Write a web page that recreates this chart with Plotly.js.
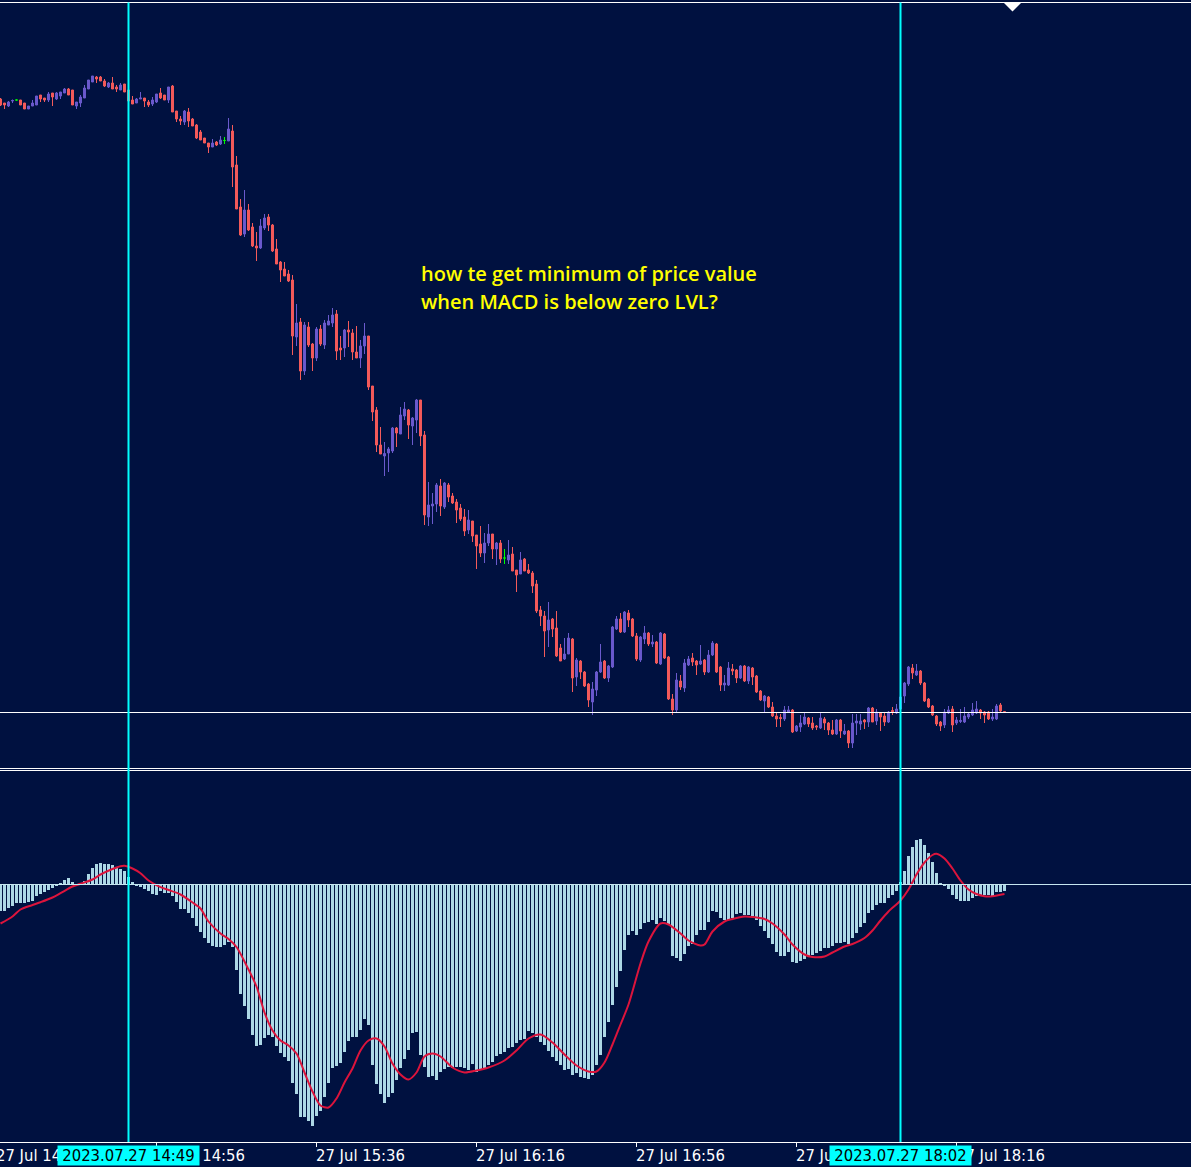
<!DOCTYPE html>
<html><head><meta charset="utf-8">
<script src="https://cdn.plot.ly/plotly-3.0.1.min.js"></script>
<style>html,body{margin:0;padding:0;background:#001140;}#chart{width:1191px;height:1167px;}</style>
</head><body><div id="chart"></div>
<script>
// ---- data (1-minute bars starting 2023-07-27 14:17) ----
const startUTC = Date.UTC(2023, 6, 27, 14, 17);
const open = [901,897,894,899,900,900,897,891,894,895,905,902,900,907,901,904,907,911,910,894,897,902,911,918,923,923,919,913,917,913,910,916,910,900,897,901,902,898,896,898,907,905,900,914,889,881,878,888,881,875,868,862,857,853,858,856,859.5,859,869,835,793,766,790,773,754,752,772,783,775,751,738,731,726,720,663,678,629,673,656,642,671,655,675,677,686,652,652,670,667,648,642,654,664,614,590,555,544,547,549,572,566,584,590,574,580,600,565,483,494,496,514,493,515,504,498,492,483,470,479,465,456,447,457,466,451,457,442,440,446,430,426,441,430,427,416,390,384,370,381,372,352,341,346,361,323,339,328,316,298,310,328,339,322,333,371,381,368,387,381,364,340,361,367,356,358,336,366,343,301,290,319,312,335,342,339,336,340,328,345,356,333,315,315,331,330,322,334,319,332,324,309,299,303,293,284,282.5,281,288,290,269,273,276,282,277,274,272,281,277,270,266,280,266,269,257,277,276,280,278,292,279,287,284,278,289.5,287,291,304,316,332,325,329,317,301,294,284,278,275,287,291,277,278.5,278,283,285,287,290,288,288,281,281,295,288.3];
const high = [902,897,899,900.5,900.5,900,897,894,900,904,905,902,908,907,908,908,912,912,910,898,905,915,920,924,924,924,921,918,923,915,917,916,910,904,902,908,902,900,903,906,912,905,913,915,889,884,890,892,882,876,870,862,857,861,859,864,863,882,875,844,801,810,796,777,768,781,786,786,776,761,739,738,730,725,696,682,678,678,657,673,675,680,685,692,690,664,671,679,671,674,660,677,664,614,593,573,558,553,573,573,593,598,591,583,601,600,569,518,507,517,521,518,517,507,501,496,491,490,479,465,474,467,476,466,458,460,451,460,453,430,448,442,436,429,420,394,389,398,382,389,356,362,367,362,342,340,329,317,318,329,356,340,335,374,384,387,389,390,382,367,364,374,368,365,359,368,367,344,306,327,325,341,344,347,340,355,341,350,359,357,334,325,338,336,331,335,335,334,333,325,310,305,304,298,288,286,294,294,291,275,285,288,283,283,275,287,283,278,280,281,281,276,270,286,286,286,281,293,293,291,288,288,289,293,296,305,318,334,336,336,330,318,302,295,285,279,291,294,294,283,291,293,287,297,299,291,289,289,291,296,297,288.3];
const low = [894,891,893,897,899.5,895,891,891,894,895,898,898,898,894,900,901,907,905,895,891,893,902,911,918,917,919,913,912,911,908,910,908,899,896,897,901,893,893,894,897,901,900,897,888,878,875,875,873,874,861,860,857,847,853,854,855,856,859,813,791,764,763,769,753,739,751,770,769,748,736,718,724,718,645,654,620,625,653,629,639,654,651,675,673,640,640,643,653,640,642,632,646,610,579,548,546,524,528,547,553,566,580,561,555,567,554,475,474,476,488,484,491,498,496,477,479,464,466,458,431,443,437,454,441,435,437,436,436,429,408,426,429,426,407,387,374,343,353,363,343,339,340,346,308,314,321,313,293,285,304,327,321,318,332,370,367,367,373,363,339,338,356,354,353,336,335,341,300,285,287,310,308,334,334,325,335,325,327,344,327,309,309,314,325,317,321,318,316,315,307,299,287,292,283,273,273,279,287,267,268,268,275,273,270,270,271,270,265,265,265,262,265,252,252,265,270,271,273,278,275,269,274,277,285,286,290,297,314,321,324,315,298,292,284,274,269,272,286,268,275,277,277,281,284,286,281,277,280,279,280,288,288];
const close = [895,895,898,899.5,900,895,891,894,897,904,901,900,906,903,907,908,911,905,895,898,903,912,920,924,921,919,914,917,911,911,915,908,899,896,901,902,899,895,900,906,902,900,913,888,881,879,889,879,874,862,860,857,853,857,855,860,859.5,871,833,791,765,790,770,754,752,774,782,775,749,736,730,724,719,664,677,629,675,655,642,671,656,677,679,685,649,650,670,668,648,642,654,664,613,588,555,546,546.5,551,572,567,585,591,575,582,600,564,485,495,496,515,494,517,503,497,490,481,469,480,464,454,447,457,466,451,457,441,442,445,429,425,440,429,427,414,389,384,369,380,371,344,339,346,362,322,340,328,314,300,311,328,338,322,334,373,381,368,388,380,364,341,363,367,356,358,337,367,342,301,290,320,313,337,341,338,335,339,328,345,357,328,315,317,332,329,322,334,319,333,323,308,300,304,293,284,281,281.5,290,290,268,274,277,283,276,272,273,282,277,270,266,280,269,269,257,277,279,279,278,292,278,288,283,278,288,288.5,291,303,317,333,327,329,317,299,293,285,276,274,288,290,275,280,279.5,284,286,290,291,287,285,281,283,294,289,288];
const macd = [-0.267,-0.26,-0.233,-0.21,-0.187,-0.18,-0.18,-0.17,-0.16,-0.11,
-0.093,-0.077,-0.05,-0.037,-0.017,0.017,0.047,0.067,0.023,0.0,
0.005,0.04,0.107,0.163,0.207,0.22,0.21,0.21,0.197,0.173,
0.157,0.14,0.08,0.023,-0.017,-0.027,-0.043,-0.067,-0.093,-0.10,
-0.067,-0.083,-0.083,-0.11,-0.17,-0.24,-0.243,-0.28,-0.335,-0.415,
-0.477,-0.537,-0.587,-0.61,-0.627,-0.62,-0.60,-0.577,-0.627,-0.85,
-1.093,-1.21,-1.343,-1.50,-1.61,-1.60,-1.537,-1.50,-1.527,-1.617,
-1.687,-1.727,-1.767,-1.987,-2.093,-2.327,-2.327,-2.36,-2.41,-2.31,
-2.26,-2.127,-1.983,-1.837,-1.817,-1.787,-1.677,-1.567,-1.527,-1.52,
-1.45,-1.343,-1.407,-1.80,-1.99,-2.09,-2.18,-2.12,-2.08,-1.95,
-1.83,-1.74,-1.65,-1.48,-1.47,-1.70,-1.82,-1.92,-1.91,-1.95,
-1.87,-1.84,-1.82,-1.83,-1.82,-1.82,-1.83,-1.85,-1.79,-1.87,
-1.84,-1.83,-1.80,-1.77,-1.71,-1.69,-1.67,-1.63,-1.62,-1.58,
-1.55,-1.54,-1.46,-1.48,-1.52,-1.57,-1.60,-1.66,-1.72,-1.76,
-1.80,-1.85,-1.84,-1.90,-1.88,-1.92,-1.93,-1.94,-1.90,-1.80,
-1.70,-1.52,-1.37,-1.20,-1.02,-0.86,-0.65,-0.50,-0.46,-0.50,
-0.44,-0.38,-0.37,-0.35,-0.39,-0.33,-0.36,-0.40,-0.71,-0.73,
-0.76,-0.69,-0.61,-0.59,-0.50,-0.45,-0.45,-0.37,-0.26,-0.27,
-0.33,-0.35,-0.35,-0.33,-0.29,-0.28,-0.30,-0.30,-0.31,-0.35,
-0.41,-0.46,-0.53,-0.59,-0.67,-0.71,-0.71,-0.67,-0.77,-0.78,
-0.76,-0.74,-0.72,-0.70,-0.68,-0.66,-0.63,-0.63,-0.61,-0.58,
-0.58,-0.57,-0.59,-0.53,-0.48,-0.42,-0.38,-0.28,-0.25,-0.20,
-0.18,-0.18,-0.13,-0.10,-0.06,0.03,0.14,0.29,0.38,0.45,
0.457,0.40,0.317,0.223,0.113,0.02,-0.01,-0.043,-0.10,-0.143,
-0.16,-0.16,-0.16,-0.133,-0.11,-0.10,-0.10,-0.10,-0.11,-0.077,
-0.07,-0.06];
const signalIdx = [0,3,5,8,10,13,15,18,20,23,25,28,30,31,33,35,37,40,42,45,48,50,52,55,57,59,62,64,66,68,70,72,74,76,78,80,82,84,86,88,90,92,94,96,98,100,102,104,106,108,110,113,116,119,122,126,129,132,135,138,141,144,147,149,151,153,155,157,160,162,165,167,170,172,175,176,178,181,183,186,188,191,193,196,198,201,203,206,208,211,213,216,218,220,222,225,227,229,231,233,234,236,238,240,242,244,246,248,251];
const signalVal = [-0.39,-0.32,-0.25,-0.205,-0.177,-0.13,-0.087,-0.02,0.007,0.05,0.10,0.155,0.183,0.187,0.16,0.113,0.04,-0.027,-0.055,-0.10,-0.18,-0.24,-0.37,-0.49,-0.545,-0.625,-0.85,-1.02,-1.28,-1.46,-1.56,-1.61,-1.69,-1.88,-2.07,-2.21,-2.23,-2.14,-1.98,-1.84,-1.66,-1.56,-1.54,-1.62,-1.79,-1.90,-1.95,-1.88,-1.72,-1.69,-1.72,-1.83,-1.88,-1.86,-1.83,-1.76,-1.66,-1.54,-1.50,-1.58,-1.70,-1.81,-1.87,-1.87,-1.78,-1.60,-1.40,-1.20,-0.79,-0.57,-0.39,-0.40,-0.49,-0.56,-0.61,-0.60,-0.47,-0.37,-0.345,-0.32,-0.325,-0.345,-0.39,-0.50,-0.60,-0.70,-0.725,-0.72,-0.68,-0.62,-0.595,-0.535,-0.46,-0.36,-0.27,-0.16,-0.05,0.10,0.22,0.295,0.307,0.26,0.16,0.04,-0.05,-0.095,-0.117,-0.117,-0.095];
const tickTimes = ['2023-07-27 14:16','2023-07-27 14:56','2023-07-27 15:36','2023-07-27 16:16','2023-07-27 16:56','2023-07-27 17:36','2023-07-27 18:16'];
const tickLabels = ['27 Jul 14:16','27 Jul 14:56','27 Jul 15:36','27 Jul 16:16','27 Jul 16:56','27 Jul 17:36','27 Jul 18:16'];
const markerTimes = ['2023-07-27 14:49','2023-07-27 18:02'];
const markerLabels = ['2023.07.27 14:49','2023.07.27 18:02'];
const levelPrice = 287.5;
const noteLines = ['how te get minimum of price value','when MACD is below zero LVL?'];

// ---- helpers ----
function tstr(ms){ return new Date(ms).toISOString().slice(0,23).replace('T',' '); }
const times = open.map((_, i) => tstr(startUTC + i*60000));
const xRange = [tstr(startUTC - 7500), tstr(startUTC + 297.625*60000)];

const H = 1167;
const py = p => (H - p) / H; // pixel row -> paper fraction

const BULL = '#6A5ACD', BEAR = '#F45B5B', DOJI = '#00FF00';
const reg = {x:[],o:[],h:[],l:[],c:[]}, doj = {x:[],o:[],h:[],l:[],c:[]};
open.forEach((o,i)=>{ const t = (o===close[i]) ? doj : reg; t.x.push(times[i]); t.o.push(o); t.h.push(high[i]); t.l.push(low[i]); t.c.push(close[i]); });

const traces = [
  {type:'candlestick', x:reg.x, open:reg.o, high:reg.h, low:reg.l, close:reg.c, xaxis:'x', yaxis:'y',
   increasing:{line:{color:BULL,width:1}, fillcolor:BULL}, decreasing:{line:{color:BEAR,width:1}, fillcolor:BEAR},
   whiskerwidth:0, hoverinfo:'skip', showlegend:false},
  {type:'candlestick', x:doj.x, open:doj.o, high:doj.h, low:doj.l, close:doj.c, xaxis:'x', yaxis:'y',
   increasing:{line:{color:DOJI,width:1}, fillcolor:DOJI}, decreasing:{line:{color:DOJI,width:1}, fillcolor:DOJI},
   whiskerwidth:0, hoverinfo:'skip', showlegend:false},
  {type:'bar', x:times, y:macd, xaxis:'x', yaxis:'y2', width:38000, marker:{color:'#ADD8E6', line:{width:0}}, hoverinfo:'skip', showlegend:false},
  {type:'scatter', mode:'lines', x:signalIdx.map(i=>times[i]), y:signalVal, xaxis:'x', yaxis:'y2',
   line:{color:'#DC143C', width:2, shape:'spline', smoothing:0.8}, hoverinfo:'skip', showlegend:false}
];

const shapes = [
  {type:'line', xref:'paper', yref:'paper', x0:0, x1:1, y0:py(2.5), y1:py(2.5), line:{color:'#FFFFFF', width:1}},
  {type:'line', xref:'paper', yref:'paper', x0:0, x1:1, y0:py(768.5), y1:py(768.5), line:{color:'#FFFFFF', width:1}},
  {type:'line', xref:'paper', yref:'paper', x0:0, x1:1, y0:py(770.5), y1:py(770.5), line:{color:'#FFFFFF', width:1}},
  {type:'line', xref:'paper', yref:'y', x0:0, x1:1, y0:levelPrice, y1:levelPrice, line:{color:'#FFFFFF', width:1}},
  {type:'line', xref:'paper', yref:'y2', x0:0, x1:1, y0:0, y1:0, line:{color:'#C6E6F0', width:1}},
  {type:'path', xref:'x', yref:'paper', xsizemode:'pixel', ysizemode:'pixel', xanchor:tstr(startUTC + 253*60000), yanchor:py(2.5),
   path:'M -9,0 L 9,0 L 0,-9 Z', fillcolor:'#FFFFFF', line:{width:0}}
];
markerTimes.forEach(t => shapes.push({type:'line', xref:'x', yref:'paper', x0:t, x1:t, y0:py(1142), y1:py(2.5), line:{color:'#00FFFF', width:2}}));

const labelFont = {family:'DejaVu Sans Condensed, DejaVu Sans, sans-serif', size:16.5, color:'#FFFFFF'};
const annotations = [];
noteLines.forEach((s,k)=>annotations.push({xref:'paper', yref:'paper', x:422/1191, xshift:-3, y:py(273 + 29*k), xanchor:'left', yanchor:'middle',
  text:s, showarrow:false, font:{family:'Open Sans, sans-serif', size:20, weight:600, color:'#FFFF00'}}));
tickTimes.forEach((t,k)=>{
  const a = {xref:'x', yref:'paper', x:t, xshift:-3, y:py(1155), xanchor:'left', yanchor:'middle', text:tickLabels[k], showarrow:false, font:labelFont};
  if (k === 0) { a.x = times[0]; a.xshift = -7; }
  annotations.push(a);
});
markerTimes.forEach((t,k)=>annotations.push({xref:'x', yref:'paper', x:t, y:py(1155), xanchor:'center', yanchor:'middle',
  text:markerLabels[k], showarrow:false, bgcolor:'#00FFFF', width:141, height:19, borderpad:0,
  font:Object.assign({}, labelFont, {color:'#000000'})}));

const layout = {
  width:1191, height:1167, margin:{l:0,r:0,t:0,b:0},
  paper_bgcolor:'#001140', plot_bgcolor:'#001140', showlegend:false, boxmode:'overlay', bargap:0,
  xaxis:{type:'date', range:xRange, anchor:'y2', rangeslider:{visible:false}, showgrid:false, zeroline:false,
         showline:true, linecolor:'#FFFFFF', linewidth:1, ticks:'outside', ticklen:4, tickcolor:'#FFFFFF',
         tickvals:tickTimes, showticklabels:false, fixedrange:true},
  yaxis:{domain:[py(768), py(3)], range:[232, 997], showgrid:false, zeroline:false, showticklabels:false, fixedrange:true},
  yaxis2:{domain:[py(1142), py(770)], range:[-2.575, 1.145], showgrid:false, zeroline:false, showticklabels:false, fixedrange:true},
  shapes:shapes, annotations:annotations
};
Plotly.newPlot('chart', traces, layout, {displayModeBar:false, staticPlot:true});
</script></body></html>
